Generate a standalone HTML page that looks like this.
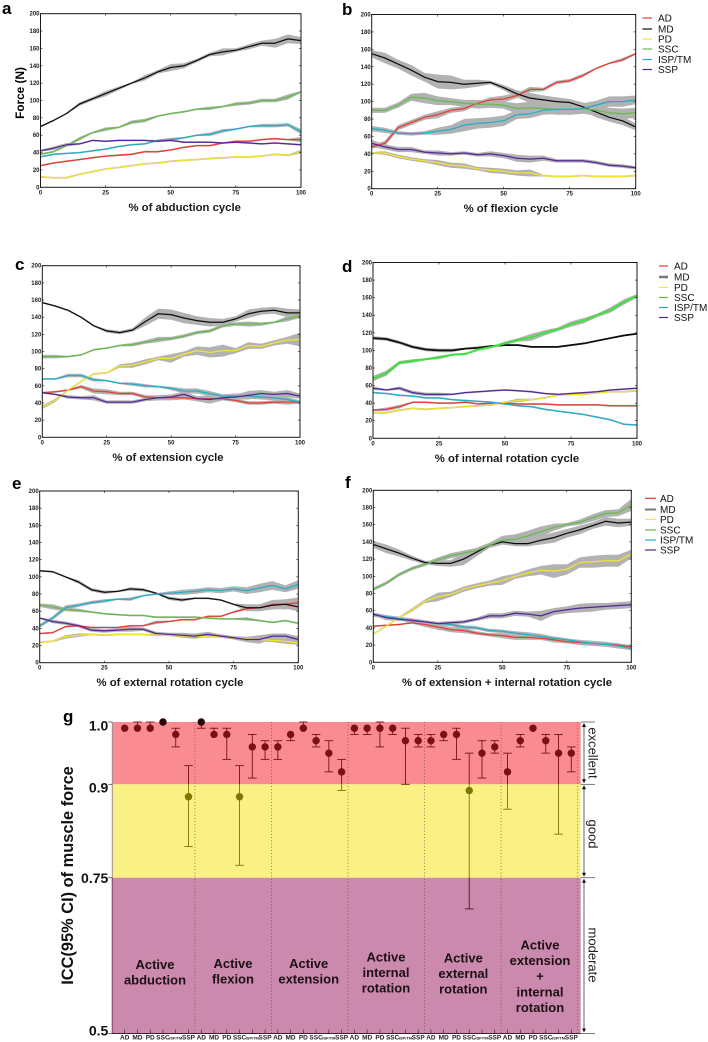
<!DOCTYPE html>
<html lang="en">
<head>
<meta charset="utf-8">
<title>Muscle force curves and ICC chart</title>
<style>
html,body{margin:0;padding:0;background:#fff;}
svg{display:block;font-family:"Liberation Sans",sans-serif;}
</style>
</head>
<body>
<svg id="fig" width="708" height="1042" viewBox="0 0 708 1042" xmlns="http://www.w3.org/2000/svg"></svg>
<script>
// Shared axis data
const sampleX=[0,5,10,15,20,25,30,35,40,45,50,55,60,65,70,75,80,85,90,95,100];
const yTickLabels=[0,20,40,60,80,100,120,140,160,180,200];
const xTickLabels=[0,25,50,75,100];
const seriesNames=['AD','MD','PD','SSC','ISP/TM','SSP'];

// Panel a: abduction
const aAD=[25,28,30,32,34,36,37,38,41,41,43,46,48,48,51,53,53,55,56,55,55];
const aMD=[70,77,85,96,102,108,114,120,126,133,138,140,146,153,156,158,162,166,166,171,169];
const aPD=[12,11,11,15,18,21,23,25,27,28,30,31,32,33,34,35,35,36,38,37,41];
const aSSC=[38,41,48,56,63,67,69,75,77,82,85,87,90,91,93,96,97,100,100,104,110];
const aISP=[35,38,39,40,42,44,47,49,50,54,55,57,60,61,65,67,70,71,71,72,64];
const aSSP=[42,45,49,50,54,53,54,54,54,53,54,52,52,52,51,52,51,50,51,50,49];
const aADb=[1,1,1,1,1,1,1,1,1,1,1,1,1,1,1,1,1,1,1,1,3];
const aMDb=[1,1,1,2,2,3,2,1,3,2,4,3,2,2,4,2,3,3,5,5,4];
const aPDb=[1,1,1,1,1,1,1,1,1,1,1,1,1,1,1,1,1,1,1,1,2];
const aSSCb=[1,1,1,2,1,2,1,2,2,1,1,1,1,2,1,2,2,2,2,3,1];
const aISPb=[1,1,1,1,1,1,1,1,1,1,2,1,1,2,2,1,1,2,2,2,3];
const aSSPb=[1,2,2,1,1,1,1,1,1,1,1,1,1,1,1,1,1,1,1,1,1];

// Panel b: flexion
const bAD=[48,52,70,76,82,85,90,92,98,102,103,107,114,114,122,124,130,138,144,148,155];
const bMD=[155,150,143,136,128,123,122,120,121,122,116,109,104,102,100,99,94,88,82,78,71];
const bPD=[41,41,37,34,32,30,27,26,23,21,20,18,18,15,14,14,15,14,14,14,15];
const bSSC=[90,90,96,105,104,101,100,98,97,97,96,92,93,92,91,91,92,90,87,86,87];
const bISP=[69,67,64,63,64,66,68,73,75,76,78,85,86,90,91,91,92,96,100,100,102];
const bSSP=[52,48,45,45,42,41,40,41,39,40,38,35,34,35,32,32,32,30,27,26,24];
const bADb=[2,3,3,3,3,4,3,3,2,3,4,3,3,2,2,2,2,1,1,2,1];
const bMDb=[4,6,5,6,5,8,8,5,4,2,3,4,6,5,5,4,5,6,5,5,4];
const bPDb=[1,2,2,2,2,3,3,3,2,3,3,3,4,1,1,1,1,1,1,1,1];
const bSSCb=[3,3,3,4,6,5,4,4,5,4,4,6,7,6,6,6,6,6,6,6,6];
const bISPb=[3,3,2,2,2,4,5,7,6,6,6,5,5,5,5,6,6,5,6,6,5];
const bSSPb=[4,3,3,3,2,3,2,2,2,3,3,4,4,3,2,2,2,2,2,2,2];

// Panel c: extension
const cAD=[52,53,55,59,54,53,51,51,47,46,46,46,45,45,45,43,40,40,41,41,41];
const cMD=[157,153,148,140,130,124,122,125,135,144,143,139,136,134,134,138,144,147,148,145,145];
const cPD=[35,43,55,65,74,75,83,84,88,92,92,97,101,99,101,101,107,106,110,113,114];
const cSSC=[94,94,94,96,102,104,107,108,111,114,115,118,122,124,130,132,132,132,134,138,142];
const cISP=[68,68,72,72,67,66,63,62,60,59,57,54,54,51,48,48,48,47,46,44,41];
const cSSP=[52,50,47,46,46,41,41,41,44,46,47,50,45,44,46,47,49,51,50,51,48];
const cADb=[1,1,1,2,3,3,2,2,2,3,3,2,3,3,2,2,2,2,2,3,2];
const cMDb=[1,1,1,1,1,2,2,2,5,6,6,6,5,5,4,3,5,4,4,5,4];
const cPDb=[2,2,1,1,1,1,2,3,3,2,5,3,5,6,7,3,4,3,3,4,8];
const cSSCb=[2,2,1,1,1,1,1,2,2,3,2,2,2,2,2,2,3,2,1,3,3];
const cISPb=[1,1,2,2,2,1,1,2,2,1,2,3,3,3,2,3,3,3,3,3,2];
const cSSPb=[1,1,2,2,3,2,2,2,2,3,3,3,3,5,3,3,5,4,3,4,3];

// Panel d: internal rotation
const dAD=[32,33,36,41,41,40,40,41,39,40,40,39,39,39,38,38,38,38,37,37,37];
const dMD=[114,113,109,104,101,100,100,102,103,105,106,106,104,104,104,106,108,111,114,117,119];
const dPD=[29,29,32,34,33,34,35,36,37,38,41,43,44,46,49,50,50,52,53,53,54];
const dSSC=[68,74,86,88,90,92,95,96,101,104,108,112,115,120,124,130,134,140,146,155,162];
const dISP=[52,51,49,48,46,46,44,43,42,41,39,37,36,33,31,29,27,24,21,16,15];
const dSSP=[57,55,57,52,50,50,50,52,53,54,55,54,53,51,50,51,52,53,55,56,57];
const dADb=[1,2,2,1,1,1,1,1,1,1,1,1,1,1,1,1,1,1,1,1,1];
const dMDb=[2,2,2,2,2,2,2,1,2,1,1,1,1,1,1,1,1,1,1,1,1];
const dPDb=[1,1,1,1,1,1,1,1,1,1,1,2,1,1,1,1,1,1,1,1,1];
const dSSCb=[3,3,2,2,1,2,1,1,1,1,2,2,4,3,2,3,3,2,3,3,2];
const dISPb=[1,1,1,1,1,1,1,1,1,1,1,1,1,1,1,1,1,1,1,1,1];
const dSSPb=[2,1,2,2,2,2,1,1,1,1,1,1,1,1,1,1,1,1,1,1,1];

// Panel e: external rotation
const eAD=[34,35,42,43,41,41,41,43,43,47,48,50,50,54,54,59,63,64,68,68,70];
const eMD=[107,106,100,94,85,82,83,86,85,81,75,73,75,75,73,68,64,64,67,68,65];
const ePD=[24,25,30,32,33,32,33,33,33,32,32,31,31,30,30,29,28,27,26,25,23];
const eSSC=[67,65,62,61,59,57,56,55,55,53,53,53,53,52,51,51,51,49,47,49,46];
const eISP=[43,52,64,67,70,72,74,74,78,80,81,82,83,85,84,86,84,87,90,86,91];
const eSSP=[52,48,46,43,38,37,38,39,39,34,33,32,31,33,31,29,27,27,31,31,27];
const eADb=[1,1,1,1,1,1,1,1,1,2,1,1,1,1,1,1,2,4,5,6,6];
const eMDb=[1,1,1,2,2,2,1,2,2,1,2,2,1,1,1,1,4,4,5,5,5];
const ePDb=[1,1,2,2,1,1,1,1,1,1,1,1,1,1,1,1,2,2,2,3,2];
const eSSCb=[2,3,2,2,1,1,1,1,1,1,1,1,1,1,1,1,2,1,1,1,1];
const eISPb=[2,2,3,2,2,2,1,2,1,1,2,3,3,3,3,3,4,5,5,4,5];
const eSSPb=[1,2,2,2,2,2,2,3,2,2,2,3,3,3,2,2,3,5,3,3,4];

// Panel f: extension + internal rotation
const fAD=[42,43,44,46,44,41,38,37,34,32,31,29,29,28,26,24,23,22,21,20,18];
const fMD=[137,132,127,121,116,115,115,120,128,136,140,138,138,142,145,150,154,159,164,162,163];
const fPD=[33,42,52,61,71,76,79,85,89,92,95,100,104,107,106,108,116,117,118,118,126];
const fSSC=[85,92,102,109,114,119,124,127,130,136,142,143,147,152,157,160,163,168,173,174,183];
const fISP=[55,53,51,48,47,45,44,41,40,37,36,34,32,30,28,26,24,22,21,19,16];
const fSSP=[56,52,50,49,47,45,46,47,50,54,54,57,56,54,59,61,63,64,65,66,67];
const fADb=[1,1,1,1,3,3,3,3,2,2,3,3,3,2,3,2,3,3,3,2,2];
const fMDb=[4,5,4,3,2,3,4,7,5,3,3,3,3,5,6,5,5,4,5,5,4];
const fPDb=[1,1,1,2,2,5,3,3,3,3,5,3,4,5,8,6,6,7,7,7,5];
const fSSCb=[2,2,2,2,2,3,3,3,3,3,5,6,6,6,4,2,3,4,4,4,7];
const fISPb=[2,2,2,3,2,2,2,2,2,2,2,2,3,3,2,2,2,2,3,3,2];
const fSSPb=[2,3,2,2,2,2,2,2,2,3,3,3,3,6,4,4,5,5,4,4,4];

// Panel g: ICC values
const iccCategories=['AD','MD','PD','SSC','ISP/TM','SSP'];
const iccValues=[.99,.99,.99,1,.98,.88, 1,.98,.98,.88,.96,.96, .96,.98,.99,.97,.95,.92, .99,.99,.99,.99,.97,.97, .97,.98,.98,.89,.95,.96, .92,.97,.99,.97,.95,.95];
const iccLower=[.99,.99,.99,1,.96,.80, .99,.98,.94,.77,.91,.94, .94,.97,.99,.96,.92,.89, .98,.98,.96,.98,.90,.96, .96,.97,.94,.70,.91,.95, .86,.96,.99,.95,.82,.92];
const iccUpper=[.99,1,1,1,.99,.93, 1,.99,.99,.93,.98,.97, .97,.98,1,.98,.97,.94, .99,.99,1,.99,.99,.98, .98,.98,.99,.95,.97,.97, .95,.98,.99,.98,.98,.96];
const iccGroups=[['Active','abduction'],['Active','flexion'],['Active','extension'],['Active','internal','rotation'],['Active','external','rotation'],['Active','extension','+','internal','rotation']];
const iccZoneLimits=[1,.9,.75,.5];
const iccZoneLabels=['excellent','good','moderate'];
const iccTickLabels=['1.0','0.9','0.75','0.5'];

const panels=[
 {id:'a',title:'% of abduction cycle',box:[40.5,301,13.7,187.3],titleX:184.7,titleY:211,letter:[2,14],v:[aAD,aMD,aPD,aSSC,aISP,aSSP],b:[aADb,aMDb,aPDb,aSSCb,aISPb,aSSPb]},
 {id:'b',title:'% of flexion cycle',box:[371.7,635.7,14.5,188.7],titleX:511,titleY:212,letter:[342,15],v:[bAD,bMD,bPD,bSSC,bISP,bSSP],b:[bADb,bMDb,bPDb,bSSCb,bISPb,bSSPb]},
 {id:'c',title:'% of extension cycle',box:[42.3,300,265.7,437.3],titleX:168,titleY:461,letter:[15,270],v:[cAD,cMD,cPD,cSSC,cISP,cSSP],b:[cADb,cMDb,cPDb,cSSCb,cISPb,cSSPb]},
 {id:'d',title:'% of internal rotation cycle',box:[373,637,262.5,438.3],titleX:507,titleY:462,letter:[342,272],v:[dAD,dMD,dPD,dSSC,dISP,dSSP],b:[dADb,dMDb,dPDb,dSSCb,dISPb,dSSPb]},
 {id:'e',title:'% of external rotation cycle',box:[39.7,298.3,491,662.7],titleX:170,titleY:686,letter:[12,489],v:[eAD,eMD,ePD,eSSC,eISP,eSSP],b:[eADb,eMDb,ePDb,eSSCb,eISPb,eSSPb]},
 {id:'f',title:'% of extension + internal rotation cycle',box:[373.3,631.3,490.3,662.3],titleX:507,titleY:686,letter:[345,488],v:[fAD,fMD,fPD,fSSC,fISP,fSSP],b:[fADb,fMDb,fPDb,fSSCb,fISPb,fSSPb]}
];
const seriesColors=['#ea3a32','#0d0d0d','#f2e62e','#66bb4a','#1fb0c8','#55259a'];
const legends=[
 {id:'b',lineX:[642.5,652],textX:658,ys:[18,29,39,49,59.5,69.5],w:[1.2,1.2,1.2,1.2,1.2,1.2]},
 {id:'d',lineX:[659,668],textX:674,ys:[266,277,287.5,297.5,307.5,317.5],w:[1.2,2.5,1.2,1.2,1.2,1.2]},
 {id:'f',lineX:[645,656],textX:660,ys:[498.3,509.5,519.5,530,540,550],w:[1.2,2,1.2,1.2,1.2,1.2]}
];

const svg=document.getElementById('fig');
const NS='http://www.w3.org/2000/svg';
function mk(tag,attrs,parent,txt){
  const e=document.createElementNS(NS,tag);
  for(const k in attrs)e.setAttribute(k,attrs[k]);
  if(txt!==undefined)e.textContent=txt;
  (parent||svg).appendChild(e);
  return e;
}

panels.forEach(function(p){
  const L=p.box[0],R=p.box[1],T=p.box[2],B=p.box[3];
  const sx=function(v){return L+(R-L)*v/100;};
  const sy=function(v){return B-(B-T)*v/200;};
  const g=mk('g',{});
  
  

  const letter=mk('text',{x:p.letter[0],y:p.letter[1],'font-size':17,'font-weight':'bold',fill:'#000'},g,p.id);
  
  

  p.v.forEach(function(vals,i){
    const band=p.b[i];
    let up='',lo='';
    vals.forEach(function(v,j){
      up+=(j?'L':'M')+sx(sampleX[j]).toFixed(1)+' '+sy(v+band[j]).toFixed(1);
    });
    for(let j=vals.length-1;j>=0;j--){
      lo+='L'+sx(sampleX[j]).toFixed(1)+' '+sy(vals[j]-band[j]).toFixed(1);
    }
    const area=mk('path',{d:up+lo+'Z',fill:'#b2b2b2'},g);
    
    
  });
  p.v.forEach(function(vals,i){
    let d='';
    vals.forEach(function(v,j){
      d+=(j?'L':'M')+sx(sampleX[j]).toFixed(1)+' '+sy(v).toFixed(1);
    });
    let col=seriesColors[i],w=1.25;
    if(p.id==='d'&&i===3){col='#3ee23e';w=2;}
    if(p.id==='d'&&i===1){w=1.7;}
    const line=mk('path',{d:d,fill:'none',stroke:col,'stroke-width':w,'stroke-linejoin':'round'},g);
    
    
  });

  const frame=mk('rect',{x:L,y:T,width:R-L,height:B-T,fill:'none',stroke:'#1a1a1a','stroke-width':1},g);
  
  

  yTickLabels.forEach(function(v){
    const y=sy(v);
    const t1=mk('line',{x1:L,x2:L+2,y1:y,y2:y,stroke:'#111','stroke-width':.6},g);
    
    
    const t2=mk('line',{x1:R-2,x2:R,y1:y,y2:y,stroke:'#111','stroke-width':.6},g);
    
    
    const lab=mk('text',{x:L-1,y:y+2,'font-size':6,'font-weight':'bold','text-anchor':'end',fill:'#222'},g,v);
    
    
  });
  xTickLabels.forEach(function(v){
    const x=sx(v);
    const t1=mk('line',{x1:x,x2:x,y1:B-2,y2:B,stroke:'#111','stroke-width':.6},g);
    
    
    const t2=mk('line',{x1:x,x2:x,y1:T,y2:T+2,stroke:'#111','stroke-width':.6},g);
    
    
    const lab=mk('text',{x:x,y:B+7,'font-size':6,'font-weight':'bold','text-anchor':'middle',fill:'#222'},g,v);
    
    
  });
  const title=mk('text',{x:p.titleX,y:p.titleY,'font-size':11.3,'font-weight':'bold','text-anchor':'middle',fill:'#1a1a1a'},g,p.title);
  
  
});

const forceTitle=mk('text',{x:0,y:0,transform:'translate(24,93) rotate(-90)','font-size':11.8,'font-weight':'bold','text-anchor':'middle',fill:'#000'},svg,'Force (N)');



legends.forEach(function(lg){
  const g=mk('g',{});
  
  
  seriesNames.forEach(function(n,i){
    const col=(lg.id!=='b'&&i===1)?'#777':seriesColors[i];
    const sw=mk('line',{x1:lg.lineX[0],x2:lg.lineX[1],y1:lg.ys[i],y2:lg.ys[i],stroke:col,'stroke-width':lg.w[i]},g);
    
    
    const t=mk('text',{x:lg.textX,y:lg.ys[i]+3.5,'font-size':10,fill:'#111'},g,n);
    
    
  });
});

// Panel g
(function(){
  const PL=112.3,PR=580.7,PT=722;
  const X0=124.7,DX=12.76;
  const sy=function(v){return PT+(1-v)*623;};
  const sx=function(i){return X0+i*DX;};
  const zoneFill=['#f98b91','#f9f184','#cb89ad'];
  const zoneInk=['#7a0f16','#7d7600','#5c0a24'];
  const g=mk('g',{});
  
  

  const letter=mk('text',{x:63,y:722,'font-size':17,'font-weight':'bold',fill:'#000'},g,'g');
  
  

  iccZoneLabels.forEach(function(n,i){
    const y0=sy(iccZoneLimits[i]),y1=sy(iccZoneLimits[i+1]);
    const r=mk('rect',{x:PL,y:y0,width:PR-PL,height:y1-y0,fill:zoneFill[i]},g);
    
    
    const br=mk('line',{x1:PR,x2:595,y1:y0,y2:y0,stroke:'#444','stroke-width':.7},g);
    
    
    const ar=mk('line',{x1:584,x2:584,y1:y0+3,y2:y1-3,stroke:'#222','stroke-width':.7},g);
    
    
    const h1=mk('path',{d:'M584 '+(y0+1)+'l-2 4h4z',fill:'#111'},g);
    
    
    const h2=mk('path',{d:'M584 '+(y1-1)+'l-2 -4h4z',fill:'#111'},g);
    
    
    const cy=[753,834,955][i];
    const t=mk('text',{x:0,y:0,transform:'translate(588.5,'+cy+') rotate(90)','font-size':13,'text-anchor':'middle',fill:'#222'},g,n);
    
    
  });
  const endBr=mk('line',{x1:PR,x2:595,y1:sy(.5),y2:sy(.5),stroke:'#444','stroke-width':.7},g);
  
  

  const leftAxis=mk('line',{x1:PL,x2:PL,y1:PT,y2:sy(.75),stroke:'#9a8f8f','stroke-width':1},g);
  
  
  const leftAxis2=mk('line',{x1:PL,x2:PL,y1:sy(.75),y2:sy(.5),stroke:'#8f4a6e','stroke-width':1.2},g);
  
  
  const bottomAxis=mk('line',{x1:PL,x2:PR,y1:sy(.5),y2:sy(.5),stroke:'#3a2030','stroke-width':.9},g);
  
  

  const tickBaselineOffset=[8.5,8,5,2.2];
  iccTickLabels.forEach(function(lab,i){
    const y=sy(iccZoneLimits[i]);
    const tk=mk('line',{x1:PL-4,x2:PL,y1:y,y2:y,stroke:'#333','stroke-width':.7},g);
    
    
    const t=mk('text',{x:PL-4,y:y+tickBaselineOffset[i],'font-size':14,'font-weight':'bold','text-anchor':'end',fill:'#111'},g,lab);
    
    
  });

  const yt=mk('text',{x:0,y:0,transform:'translate(73,875.5) rotate(-90)','font-size':16.4,'font-weight':'bold','text-anchor':'middle',fill:'#111'},g,'ICC(95% CI) of muscle force');
  
  

  // group separators
  iccGroups.forEach(function(gr,k){
    const x=sx(6*k+5.5);
    const sep=mk('line',{x1:x,x2:x,y1:PT,y2:sy(.5),stroke:'#5a3a30','stroke-width':.8,'stroke-dasharray':'1 2.2','stroke-opacity':.75},g);
    
    
  });

  // categories ticks and labels
  iccValues.forEach(function(v,i){
    const x=sx(i);
    const tk=mk('line',{x1:x,x2:x,y1:sy(.5)-4,y2:sy(.5),stroke:'#222','stroke-width':.6},g);
    
    
    const cat=iccCategories[i%6];
    const t=mk('text',{x:x,y:1039.3,'font-size':cat==='ISP/TM'?3.9:6.5,'font-weight':'bold','text-anchor':'middle',fill:'#222'},g,cat);
    
    
  });

  function zoneOf(v){return v>=.9?0:(v>=.75?1:2);}

  // error bars: drawn in one segment per background band
  iccValues.forEach(function(v,i){
    const x=sx(i),lo=iccLower[i],hi=iccUpper[i];
    for(let z=0;z<3;z++){
      const a=Math.min(hi,iccZoneLimits[z]),b=Math.max(lo,iccZoneLimits[z+1]);
      if(a>b){
        const seg=mk('line',{x1:x,x2:x,y1:sy(a),y2:sy(b),stroke:zoneInk[z],'stroke-width':.9},g);
        
        
      }
    }
    [hi,lo].forEach(function(c){
      if(c!==v){
        const cap=mk('line',{x1:x-4.3,x2:x+4.3,y1:sy(c),y2:sy(c),stroke:zoneInk[zoneOf(c)],'stroke-width':.9},g);
        
        
      }
    });
  });
  iccValues.forEach(function(v,i){
    const fill=v>=1?'#2a0406':zoneInk[zoneOf(v)];
    const dot=mk('circle',{cx:sx(i),cy:sy(v),r:3.7,fill:fill},g);
    
    
  });

  // group captions
  const capCx=[155,233,308.7,386,463.3,540];
  const capY0=[969,968,968,961.5,962.5,949.5];
  iccGroups.forEach(function(lines,k){
    lines.forEach(function(s,j){
      const t=mk('text',{x:capCx[k],y:capY0[k]+j*15.6,'font-size':13,'font-weight':'bold','text-anchor':'middle',fill:'#1c1014'},g,s);
      
      
    });
  });
})();
</script>
</body>
</html>
